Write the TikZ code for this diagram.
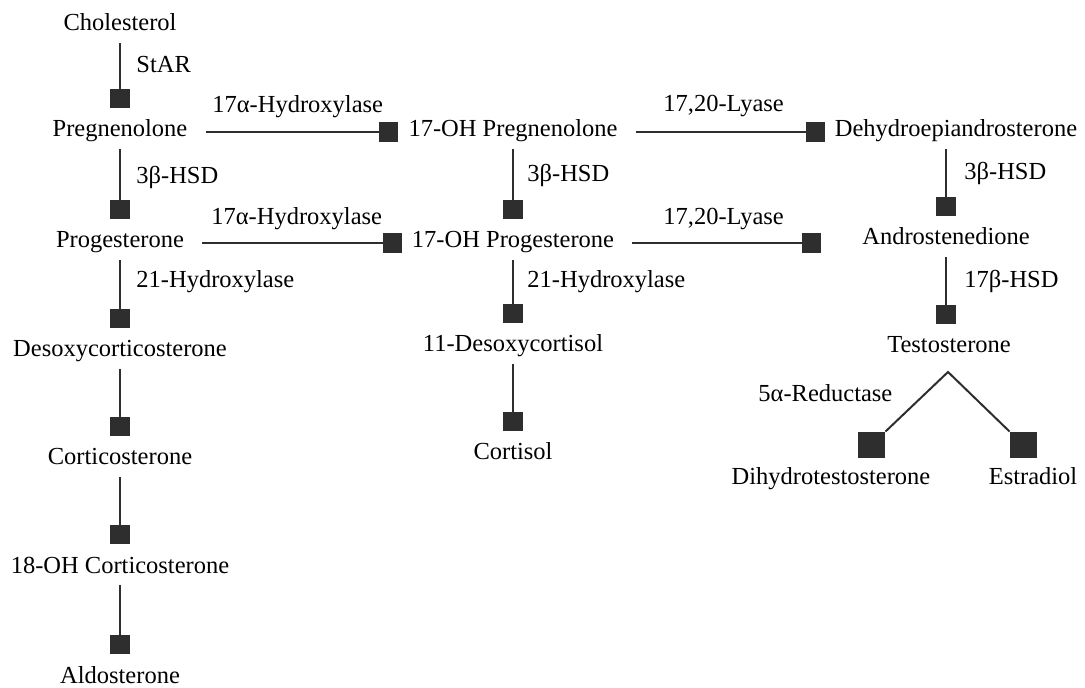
\documentclass[tikz,border=0pt]{standalone}
\usepackage{fontspec}
\setmainfont{Liberation Serif}
\usetikzlibrary{arrows.meta}
\definecolor{ink}{HTML}{2E2E2E}
\tikzset{
  sub/.style = {anchor=base, text height=9pt, text depth=4pt, inner xsep=5pt, inner ysep=2pt, font=\fontsize{12.25}{14}\selectfont},
  enz/.style = {anchor=base west, inner sep=0pt, font=\fontsize{12.25}{14}\selectfont},
  conv/.style = {draw=ink, line width=1pt, -{Square[length=9.5pt, width=10pt]}},
  down/.style = {conv, shorten >=3.5pt},
  across/.style = {conv, line width=.8pt, shorten <=4pt},
  endbox/.style = {fill=ink, minimum width=13.5pt, minimum height=13pt, inner sep=0pt}
}
\begin{document}
\begin{tikzpicture}[x=.5pt, y=-.5pt]
  \useasboundingbox (0,0) rectangle (1085,688);

  \node [sub] (chol) at (120,31) {Cholesterol};
  \node [sub] (preg) at (120,137) {Pregnenolone};
  \node [sub] (prog) at (120,248) {Progesterone};
  \node [sub] (doc) at (120,357) {Desoxycorticosterone};
  \node [sub] (cort) at (120,465) {Corticosterone};
  \node [sub] (ohcort) at (120,573) {18-OH Corticosterone};
  \node [sub] (aldo) at (120,683) {Aldosterone};

  \node [sub] (ohpreg) at (513,137) {17-OH Pregnenolone};
  \node [sub] (ohprog) at (513,248) {17-OH Progesterone};
  \node [sub] (doxcort) at (513,352) {11-Desoxycortisol};
  \node [sub] (cortisol) at (513,460) {Cortisol};

  \node [sub] (dhea) at (956,137) {Dehydroepiandrosterone};
  \node [sub] (andro) at (946,245) {Androstenedione};
  \node [sub] (testo) at (949,353) {Testosterone};
  \node [endbox] (dhtbox) at (871.5,445) {};
  \node [endbox] (estrbox) at (1023.5,445) {};
  \node [sub] (dht) at (831,485) {Dihydrotestosterone};
  \node [sub] (estr) at (1033,485) {Estradiol};
  \coordinate (lyase) at (821,243);
  \coordinate (fork) at (948,372);

  \node [enz] (star) at (136,73) {StAR};
  \node [enz] (hyd1) at (212,113) {17α-Hydroxylase};
  \node [enz] (hsd1) at (136,184) {3β-HSD};
  \node [enz] (hyd2) at (211,225) {17α-Hydroxylase};
  \node [enz] (hyd3) at (136,288) {21-Hydroxylase};
  \node [enz] (lya1) at (663,112) {17,20-Lyase};
  \node [enz] (lya2) at (663,225) {17,20-Lyase};
  \node [enz] (hsd2) at (527,182) {3β-HSD};
  \node [enz] (hyd4) at (527,288) {21-Hydroxylase};
  \node [enz] (hsd3) at (964,180) {3β-HSD};
  \node [enz] (hsd4) at (964,288) {17β-HSD};
  \node [enz] (red) at (758,402) {5α-Reductase};

  \draw [down] (chol) -- (preg);
  \draw [down] (preg) -- (prog);
  \draw [down] (prog) -- (doc);
  \draw [down] (doc) -- (cort);
  \draw [down] (cort) -- (ohcort);
  \draw [down] (ohcort) -- (aldo);
  \draw [down] (ohpreg) -- (ohprog);
  \draw [down] (ohprog) -- (doxcort);
  \draw [down] (doxcort) -- (cortisol);
  \draw [down] (dhea.south -| andro) -- (andro);
  \draw [down] (andro) -- (andro |- testo.north);

  \draw [across] (preg) -- (ohpreg);
  \draw [across] (prog) -- (ohprog);
  \draw [across] (ohpreg) -- (dhea);
  \draw [across] (ohprog) -- (lyase);

  \draw [draw=ink, line width=1pt] (dhtbox.north east) -- (fork) -- (estrbox.north west);
\end{tikzpicture}
\end{document}
